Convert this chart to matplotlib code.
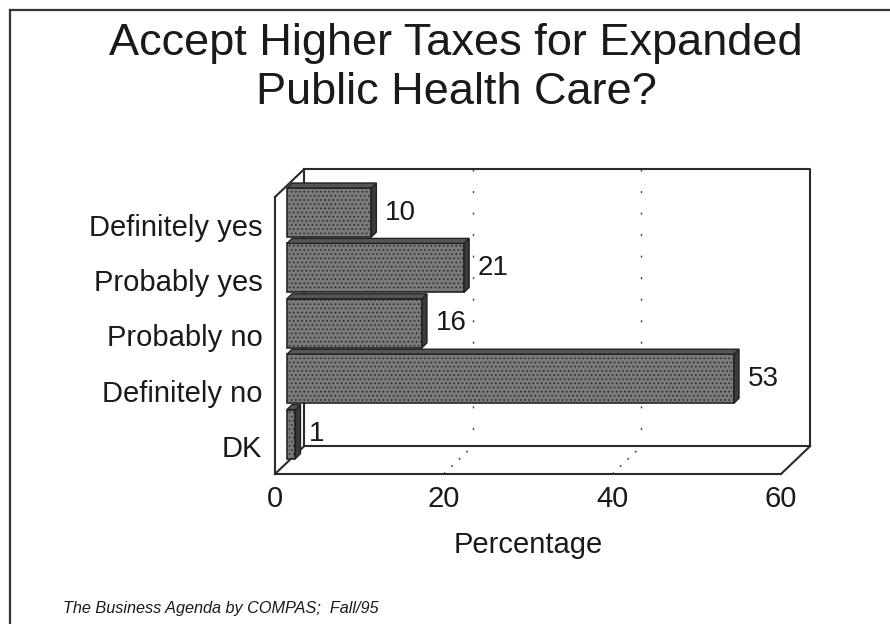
import matplotlib
matplotlib.use("Agg")
import matplotlib.pyplot as plt
from matplotlib.patches import Polygon

plt.rcParams["font.family"] = ["Liberation Sans", "DejaVu Sans"]
plt.rcParams["hatch.linewidth"] = 0.6

categories = ["Definitely yes", "Probably yes", "Probably no", "Definitely no", "DK"]
values = [10, 21, 16, 53, 1]
xticks = [0, 20, 40, 60]

title = "Accept Higher Taxes for Expanded\nPublic Health Care?"
source = "The Business Agenda by COMPAS;  Fall/95"

W, H = 890, 624
fig = plt.figure(figsize=(W / 100, H / 100), dpi=100)

# border of the scanned slide (top and left edges only visible)
fig.add_artist(plt.Line2D([10 / W, 1], [1 - 10 / H] * 2, color="#333333", lw=1.6))
fig.add_artist(plt.Line2D([10 / W] * 2, [0, 1 - 10 / H], color="#333333", lw=1.6))

fig.text(456 / W, 1 - 68 / H, title, ha="center", va="center", fontsize=32.5,
         linespacing=1.22, color="#1a1a1a")
fig.text(63 / W, 1 - 608 / H, source, ha="left", va="center", fontsize=11.7,
         style="italic", color="#1a1a1a")

# axes = front plane of the 3-D box
ax = fig.add_axes([275 / W, 1 - 474 / H, (781 - 275) / W, (474 - 197) / H])
ax.set_xlim(0, 60)
ax.set_ylim(4.5, -0.5)
for s in ax.spines.values():
    s.set_visible(False)
ax.set_facecolor("none")

DX, DY = 3.44, -0.5       # depth of the box (data units)
x0, y0, x1, y1 = 0, -0.5, 60, 4.5
lc = "#2b2b2b"
box_lines = [
    # back wall
    ([x0 + DX, x1 + DX, x1 + DX, x0 + DX, x0 + DX],
     [y0 + DY, y0 + DY, y1 + DY, y1 + DY, y0 + DY]),
    # left wall / floor edges
    ([x0, x0], [y0, y1]),
    ([x0, x0 + DX], [y0, y0 + DY]),
    ([x0, x0 + DX], [y1, y1 + DY]),
    ([x0, x1], [y1, y1]),
    ([x1, x1 + DX], [y1, y1 + DY]),
]
for xs, ys in box_lines:
    ax.plot(xs, ys, color=lc, lw=1.5, clip_on=False, zorder=2)

# gridlines on back wall and floor
for t in xticks[1:-1]:
    ax.plot([t + DX, t + DX], [y0 + DY, y1 + DY], color="#444444", lw=1.0,
            linestyle=(0, (1.5, 14)), clip_on=False, zorder=1)
    ax.plot([t, t + DX], [y1, y1 + DY], color="#444444", lw=1.0,
            linestyle=(0, (1.5, 6)), clip_on=False, zorder=1)

# bars
BX, BY = 1.42, -0.22      # position of bars inside the box
bh = 0.885
ddx, ddy = 0.6, -0.09     # bar depth
ypos = [i + BY for i in range(len(categories))]
ax.barh(ypos, values, height=bh, left=BX, color="#7a7a7a", edgecolor="#262626",
        hatch="....", linewidth=1.2, zorder=4, clip_on=False)
for y, v in zip(ypos, values):
    yt, yb = y - bh / 2, y + bh / 2
    xe = BX + v
    side = Polygon([(xe, yt), (xe + ddx, yt + ddy), (xe + ddx, yb + ddy), (xe, yb)],
                   closed=True, facecolor="#3a3a3a", edgecolor="#222222", lw=1.0,
                   zorder=5, clip_on=False)
    top = Polygon([(BX, yt), (BX + ddx, yt + ddy), (xe + ddx, yt + ddy), (xe, yt)],
                  closed=True, facecolor="#555555", edgecolor="#222222", lw=1.0,
                  zorder=5, clip_on=False)
    ax.add_patch(side)
    ax.add_patch(top)
    ax.text(xe + ddx + 1.0, y, str(v), ha="left", va="center", fontsize=20,
            color="#1a1a1a", zorder=6)

ax.set_yticks(range(len(categories)))
ax.set_yticklabels(categories, fontsize=21, color="#1a1a1a")
ax.set_xticks(xticks)
ax.set_xticklabels([str(t) for t in xticks], fontsize=21, color="#1a1a1a")
ax.tick_params(axis="y", length=0, pad=9)
ax.tick_params(axis="x", length=0, pad=8)
ax.set_xlabel("Percentage", fontsize=21, color="#1a1a1a", labelpad=13)

fig.savefig("out.png", dpi=100)
